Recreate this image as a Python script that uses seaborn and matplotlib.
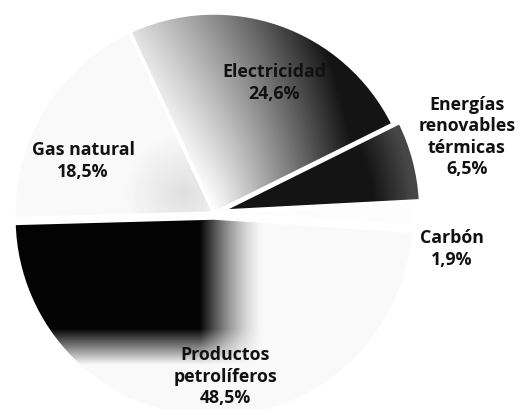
import numpy as np
import matplotlib
matplotlib.use('Agg')
import matplotlib.pyplot as plt
import seaborn as sns

# Consumo de energía final por fuente (%)
categories = ['Energías\nrenovables\ntérmicas', 'Electricidad', 'Gas natural',
              'Productos\npetrolíferos', 'Carbón']
shares = [6.5, 24.6, 18.5, 48.5, 1.9]

# layout only: how far each slice is pulled out, where each label sits
explode = [0.035, 0.0, 0.0, 0.025, 0.0]
label_xy = [(1.265, 0.385), (0.30, 0.655), (-0.655, 0.265), (0.055, -0.815), (1.19, -0.175)]


def shade_renovables(X, Y, R):
    return 0.08 + 0.2 * np.clip((R - 0.8) / 0.2, 0, 1)


def shade_electricidad(X, Y, R):
    d = np.clip(0.2 + 0.9 * X + 0.5 * (R - 0.4), 0, 1)
    return 1 - 0.92 * d


def shade_gas(X, Y, R):
    return 0.975 - 0.1 * np.clip(1 - np.hypot(X + 0.15, Y - 0.1) / 0.3, 0, 1)


def shade_productos(X, Y, R):
    h = np.clip((0.25 - X) / 0.32, 0, 1) ** 1.5
    v = np.clip((Y + 0.76) / 0.18, 0, 1)
    return 0.975 - 0.96 * h * v


def shade_carbon(X, Y, R):
    return np.full_like(X, 0.99)


shades = [shade_renovables, shade_electricidad, shade_gas, shade_productos, shade_carbon]

sns.set_theme(style='white')
plt.rcParams['font.family'] = ['Open Sans', 'DejaVu Sans']

fig = plt.figure(figsize=(5.23, 4.1), dpi=100)
ax = fig.add_axes([0, 0, 1, 1])

wedges, _ = ax.pie(shares, startangle=3, counterclock=True, explode=explode,
                   radius=1, wedgeprops=dict(edgecolor='white', linewidth=2.5))

xmin, xmax, ymin, ymax = -1.07, 1.545, -0.98, 1.07
xs = np.linspace(xmin, xmax, 523)
ys = np.linspace(ymin, ymax, 410)
X, Y = np.meshgrid(xs, ys)
R = np.hypot(X, Y)

# grey gradients of the scanned original, clipped to each slice
for w, shade in zip(wedges, shades):
    w.set_facecolor('none')
    w.set_zorder(3)
    im = ax.imshow(shade(X, Y, R), cmap='gray', vmin=0, vmax=1, origin='lower',
                   extent=(xmin, xmax, ymin, ymax), interpolation='bilinear', zorder=2)
    im.set_clip_path(w)

for name, val, (lx, ly) in zip(categories, shares, label_xy):
    txt = f'{name}\n{val:.1f}%'.replace('.', ',')
    ax.text(lx, ly, txt, ha='center', va='center', fontsize=12.8, fontweight='bold',
            color='#111111', linespacing=1.25, zorder=5)

ax.set_xlim(xmin, xmax)
ax.set_ylim(ymin, ymax)
ax.set_aspect('equal')
ax.axis('off')

fig.savefig('out.png', dpi=100, facecolor='white')
